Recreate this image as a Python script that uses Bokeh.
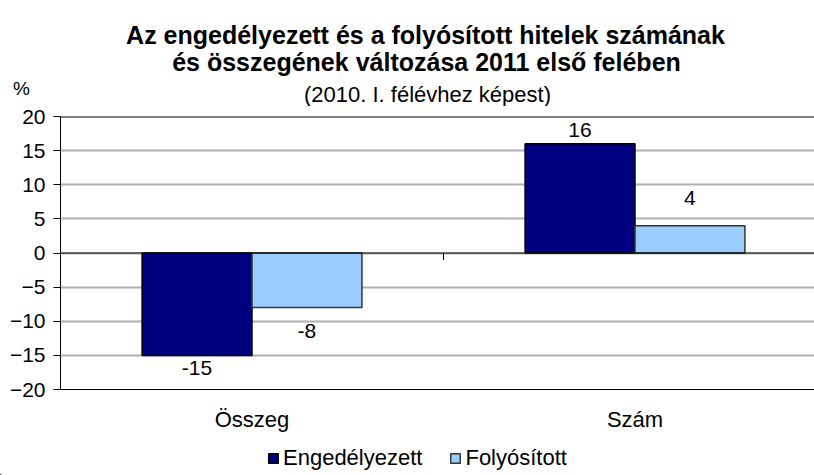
from bokeh.plotting import figure
from bokeh.models import (ColumnDataSource, Range1d, FixedTicker, Span, Label,
                          Legend, LegendItem)
from bokeh.layouts import column
from bokeh.core.properties import value
from bokeh.embed import file_html
from bokeh.resources import INLINE

# ---- data ----
categories = ["Összeg", "Szám"]
engedelyezett = [-15, 16]
folyositott = [-8, 4]
series_names = ["Engedélyezett", "Folyósított"]
y_ticks = [-20, -15, -10, -5, 0, 5, 10, 15, 20]
title_line1 = "Az engedélyezett és a folyósított hitelek számának"
title_line2 = "és összegének változása 2011 első felében"
subtitle = "(2010. I. félévhez képest)"
unit_label = "%"

FONT = "Liberation Sans"
DARK = "#000080"
LIGHT = "#99CCFF"
W = 814

# ---------------- header (titles) ----------------
HEAD_H = 106
head = figure(width=W, height=HEAD_H, output_backend="svg", toolbar_location=None,
              x_range=Range1d(0, W), y_range=Range1d(HEAD_H, 0),
              min_border=0, min_border_left=0, min_border_right=0,
              min_border_top=0, min_border_bottom=0, outline_line_color=None,
              frame_align=False)
head.axis.visible = False
head.grid.visible = False
for txt, cx, cy, bold, size in [(title_line1, 425, 34, True, "25px"),
                                (title_line2, 426, 61, True, "25px"),
                                (subtitle, 427, 94, False, "22px")]:
    head.add_layout(Label(x=cx, y=cy, text=txt, text_align="center",
                          text_baseline="middle", text_font=FONT,
                          text_font_size=size, text_color="black",
                          text_font_style="bold" if bold else "normal"))
head.add_layout(Label(x=21, y=88, text=unit_label, text_align="center",
                      text_baseline="middle", text_font=FONT, text_font_size="19px",
                      text_color="black"))

# ---------------- main chart ----------------
FOOT_H = 35
MAIN_H = 475 - HEAD_H - FOOT_H
TOP_B, LEFT_B = 116 - HEAD_H, 60
FRAME_H = 273
BOT_B = MAIN_H - TOP_B - FRAME_H
CAT_PX = 383
frame_w = W - LEFT_B
x_end = frame_w / CAT_PX
y_min, y_max = y_ticks[0], y_ticks[-1]

p = figure(width=W, height=MAIN_H, output_backend="svg", toolbar_location=None,
           x_range=Range1d(0, x_end), y_range=Range1d(y_min, y_max),
           min_border_left=LEFT_B, min_border_right=0,
           min_border_top=TOP_B, min_border_bottom=BOT_B,
           background_fill_color="white", border_fill_color="white",
           frame_align=False)
p.outline_line_color = None

p.yaxis.ticker = FixedTicker(ticks=y_ticks)
p.yaxis.axis_line_color = "black"
p.yaxis.major_tick_line_color = "black"
p.yaxis.major_tick_in = 0
p.yaxis.major_tick_out = 7
p.yaxis.minor_tick_line_color = None
p.yaxis.major_label_text_font = FONT
p.yaxis.major_label_text_font_size = "21px"
p.yaxis.major_label_text_color = "black"
p.yaxis.major_label_standoff = 8

centers = [i + 0.5 for i in range(len(categories))]
p.xaxis.ticker = FixedTicker(ticks=centers)
p.xaxis.major_label_overrides = {c: lab for c, lab in zip(centers, categories)}
p.xaxis.axis_line_color = "black"
p.xaxis.major_tick_line_color = None
p.xaxis.minor_tick_line_color = None
p.xaxis.major_label_text_font = FONT
p.xaxis.major_label_text_font_size = "22px"
p.xaxis.major_label_text_color = "black"
p.xaxis.major_label_standoff = 11

p.xgrid.visible = False
p.ygrid.ticker = FixedTicker(ticks=y_ticks)
p.ygrid.grid_line_color = "#b0b0b0"
p.ygrid.grid_line_width = 2

p.add_layout(Span(location=y_max, dimension="width", line_color="black", line_width=2))

bar_w = 0.287
src = ColumnDataSource(dict(
    x1=[c - bar_w / 2 for c in centers],
    x2=[c + bar_w / 2 for c in centers],
    e=engedelyezett, f=folyositott,
    e_lab=[str(v) for v in engedelyezett], f_lab=[str(v) for v in folyositott],
    e_off=[-14 if v >= 0 else 13 for v in engedelyezett],
    f_off=[-28 if v >= 0 else 23 for v in folyositott],
))
r1 = p.vbar(x="x1", top="e", bottom=0, width=bar_w, source=src,
            fill_color=DARK, line_color="black", line_width=1.5)
r2 = p.vbar(x="x2", top="f", bottom=0, width=bar_w, source=src,
            fill_color=LIGHT, line_color="#333333", line_width=1.5)

p.add_layout(Span(location=0, dimension="width", line_color="black", line_width=1.2))

bounds = [i for i in range(1, len(categories))]
p.segment(x0=bounds, x1=bounds, y0=[0] * len(bounds),
          y1=[-7 * (y_max - y_min) / FRAME_H] * len(bounds),
          line_color="black", line_width=1)

p.text(x="x1", y="e", text="e_lab", y_offset="e_off", source=src,
       text_align="center", text_baseline="middle",
       text_font=value(FONT), text_font_size="21px", text_color="black")
p.text(x="x2", y="f", text="f_lab", y_offset="f_off", source=src,
       text_align="center", text_baseline="middle",
       text_font=value(FONT), text_font_size="21px", text_color="black")

# ---------------- footer (legend) ----------------
foot = figure(width=W, height=FOOT_H, output_backend="svg", toolbar_location=None,
              x_range=Range1d(0, W), y_range=Range1d(0, FOOT_H),
              min_border=0, min_border_left=0, min_border_right=0,
              min_border_top=0, min_border_bottom=0, outline_line_color=None,
              frame_align=False)
foot.axis.visible = False
foot.grid.visible = False
# swatch renderers for the legend (kept outside the visible range)
d1 = foot.vbar(x=[-1000], top=[1], bottom=0, width=1, fill_color=DARK,
               line_color="black", line_width=1.5)
d2 = foot.vbar(x=[-1000], top=[1], bottom=0, width=1, fill_color=LIGHT,
               line_color="#333333", line_width=1.5)
legend = Legend(items=[LegendItem(label=series_names[0], renderers=[d1]),
                       LegendItem(label=series_names[1], renderers=[d2])],
                orientation="horizontal", location=(267, 4),
                glyph_width=12, glyph_height=12, label_standoff=4, spacing=27,
                padding=0, margin=0, border_line_color=None,
                background_fill_alpha=0, label_text_font=FONT,
                label_text_color="black",
                label_text_font_size="22px", label_height=20)
foot.add_layout(legend, "center")

layout = column(head, p, foot, spacing=0)
open("out.html", "w").write(file_html(layout, INLINE))
